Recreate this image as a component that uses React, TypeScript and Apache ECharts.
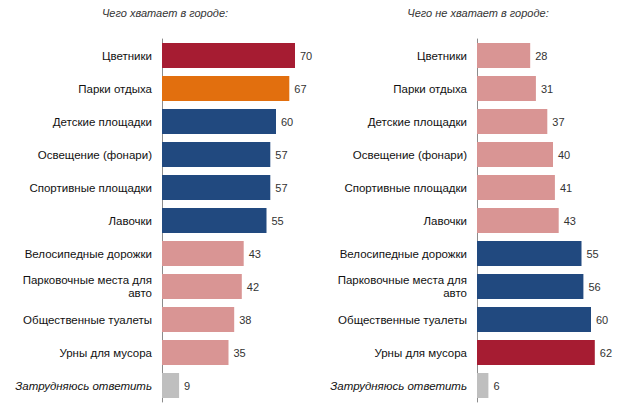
import React, { useEffect, useRef } from "react";
import * as echarts from "echarts";

const categories = [
  "Цветники",
  "Парки отдыха",
  "Детские площадки",
  "Освещение (фонари)",
  "Спортивные площадки",
  "Лавочки",
  "Велосипедные дорожки",
  "Парковочные места для\nавто",
  "Общественные туалеты",
  "Урны для мусора",
  "Затрудняюсь ответить",
];
const enoughValues = [70, 67, 60, 57, 57, 55, 43, 42, 38, 35, 9];
const lackValues = [28, 31, 37, 40, 41, 43, 55, 56, 60, 62, 6];
const enoughColors = ["red", "orange", "navy", "navy", "navy", "navy", "pink", "pink", "pink", "pink", "gray"];
const lackColors = ["pink", "pink", "pink", "pink", "pink", "pink", "navy", "navy", "navy", "red", "gray"];
const titles = ["Чего хватает в городе:", "Чего не хватает в городе:"];

const palette: Record<string, string> = {
  red: "#A61C32",
  orange: "#E26F0E",
  navy: "#21497F",
  pink: "#D99594",
  gray: "#BFBFBF",
};

const font = "'Liberation Sans', Arial, sans-serif";

export default function App() {
  const ref = useRef<HTMLDivElement>(null);
  useEffect(() => {
    const chart = echarts.init(ref.current!, null, { renderer: "svg" });
    const catData = categories.map((c, i) =>
      i === categories.length - 1
        ? { value: c, textStyle: { fontStyle: "italic" } }
        : c
    );
    const grids = [
      { left: 162, top: 39, width: 152, height: 363 },
      { left: 477, top: 39, width: 152, height: 363 },
    ];
    const mkY = (gi: number) => ({
      type: "category",
      gridIndex: gi,
      data: catData,
      inverse: true,
      axisTick: { show: false },
      axisLine: { show: true, lineStyle: { color: "#8c8c8c", width: 1 } },
      axisLabel: {
        color: "#111",
        fontSize: 11.5,
        fontFamily: font,
        margin: 10,
        lineHeight: 13,
        align: "right",
      },
    });
    const mkX = (gi: number) => ({
      type: "value",
      gridIndex: gi,
      min: 0,
      max: 80,
      show: false,
      splitLine: { show: false },
    });
    const mkSeries = (gi: number, vals: number[], cols: string[]) => ({
      type: "bar",
      xAxisIndex: gi,
      yAxisIndex: gi,
      barWidth: 25,
      data: vals.map((v, i) => ({ value: v, itemStyle: { color: palette[cols[i]] } })),
      label: {
        show: true,
        position: "right",
        distance: 5,
        color: "#333",
        fontSize: 11,
        fontFamily: font,
      },
    });
    const titleStyle = { fontSize: 11, fontStyle: "italic", fontWeight: "normal", color: "#333", fontFamily: font };
    chart.setOption({
      animation: false,
      backgroundColor: "#fff",
      title: [
        { text: titles[0], left: 160, top: 2, textAlign: "center", textStyle: titleStyle },
        { text: titles[1], left: 473, top: 2, textAlign: "center", textStyle: titleStyle },
      ],
      grid: grids,
      xAxis: [mkX(0), mkX(1)],
      yAxis: [mkY(0), mkY(1)],
      series: [mkSeries(0, enoughValues, enoughColors), mkSeries(1, lackValues, lackColors)],
    });
    return () => chart.dispose();
  }, []);
  return <div ref={ref} style={{ width: 631, height: 409, position: "absolute", left: 0, top: 0 }} />;
}
